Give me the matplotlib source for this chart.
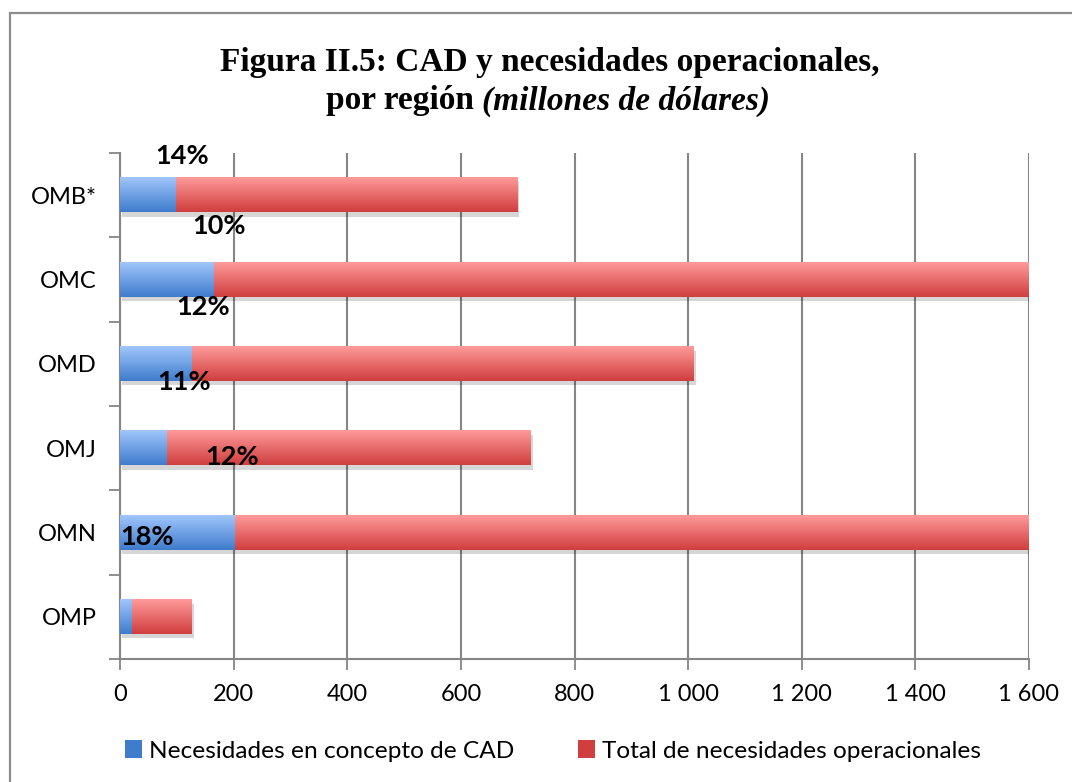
import numpy as np
import matplotlib
matplotlib.use('Agg')
import matplotlib.pyplot as plt
from matplotlib import patheffects as pe
from matplotlib.colors import LinearSegmentedColormap
from matplotlib.patches import Rectangle

# -------------------------------------------------------------------------------------------------------------------- #
# DATA

regions = ['OMB*', 'OMC', 'OMD', 'OMJ', 'OMN', 'OMP']
cad = [98, 164, 125, 81, 202, 21]
total = [699, 1640, 1010, 723, 1683, 126]
pct_labels = ['14%', '10%', '12%', '11%', '12%', '18%']
x_ticks = [0, 200, 400, 600, 800, 1000, 1200, 1400, 1600]
x_tick_labels = ['0', '200', '400', '600', '800', '1 000', '1 200', '1 400', '1 600']

# where the percentage labels sit (data coords: x value, category index)
pct_pos = [(109, -0.46), (174, 0.37), (146, 1.33), (113, 2.22), (197, 3.10), (48, 4.05)]

# -------------------------------------------------------------------------------------------------------------------- #
# STYLE

tick_font = 'Lato'
blue_top, blue_bot = '#a0c6fc', '#3f7ccc'
red_top, red_bot = '#ff9a9a', '#d03e3e'
axis_grey = '#868686'
x_max = 1600

fig = plt.figure(figsize=(10.72, 7.82), dpi=100)
ax = fig.add_axes([120 / 1072, 1 - 659 / 782, 909 / 1072, 506 / 782])

# outer frame (only top and left visible in the crop)
fig.patches.append(Rectangle((10 / 1072, -0.1), 1.2, 1 - 13 / 782 + 0.1, transform=fig.transFigure,
                             fill=False, edgecolor='#8c8c8c', linewidth=1.6))

y = np.arange(len(regions))
bar_h = 0.41

shadow = [pe.SimplePatchShadow(offset=(1.5, -3), shadow_rgbFace='#000000', alpha=0.16), pe.Normal()]
red_bars = ax.barh(y, total, height=bar_h, color=red_bot, zorder=2, path_effects=shadow)
blue_bars = ax.barh(y, cad, height=bar_h, color=blue_bot, zorder=3)


def fill_gradient(bars, c_top, c_bot, z):
    cmap = LinearSegmentedColormap.from_list('g', [c_top, c_bot])
    grad = np.linspace(0, 1, 64).reshape(-1, 1)
    for b in bars:
        x0, y0 = b.get_x(), b.get_y()
        x1 = min(x0 + b.get_width(), x_max)
        h = b.get_height()
        ax.imshow(grad, cmap=cmap, aspect='auto', origin='upper',
                  extent=(x0, x1, y0 + h, y0), zorder=z, interpolation='bilinear')


fill_gradient(red_bars, red_top, red_bot, 2.1)
fill_gradient(blue_bars, blue_top, blue_bot, 3.1)

for txt, (px, py) in zip(pct_labels, pct_pos):
    ax.text(px, py, txt, ha='center', va='center', fontsize=19.5, fontweight='bold',
            family=tick_font, color='black', zorder=5)

ax.set_xlim(0, x_max)
ax.set_ylim(len(regions) - 0.5, -0.5)

ax.set_xticks(x_ticks)
ax.set_xticklabels(x_tick_labels, family=tick_font, fontsize=17)
ax.set_yticks(y)
ax.set_yticklabels(regions, family=tick_font, fontsize=17)
ax.set_yticks(np.arange(-0.5, len(regions)), minor=True)
ax.tick_params(axis='y', which='major', length=0, pad=17)
ax.tick_params(axis='y', which='minor', length=8, width=1.3, color=axis_grey, direction='out')
ax.tick_params(axis='x', which='major', length=8, width=1.3, color=axis_grey, direction='out', pad=10)

ax.grid(axis='x', color=axis_grey, linewidth=1.5, zorder=0)
ax.set_axisbelow(True)
for s in ['top', 'right']:
    ax.spines[s].set_visible(False)
for s in ['left', 'bottom']:
    ax.spines[s].set_color(axis_grey)
    ax.spines[s].set_linewidth(1.5)

# legend
handles = [Rectangle((0, 0), 1, 1, facecolor=blue_bot),
           Rectangle((0, 0), 1, 1, facecolor=red_bot)]
leg = fig.legend(handles, ['Necesidades en concepto de CAD', 'Total de necesidades operacionales'],
                 loc='center', bbox_to_anchor=(553 / 1072, 1 - 751 / 782), ncol=2, frameon=False,
                 prop={'family': tick_font, 'size': 17.6}, handlelength=0.7, handleheight=0.7,
                 handletextpad=0.3, columnspacing=2.6)

# title: two lines, second with italic part
title_font = 'Liberation Serif'
fig.text(550 / 1072, 1 - 62 / 782, 'Figura II.5: CAD y necesidades operacionales,', ha='center', va='center',
         family=title_font, fontweight='bold', fontsize=24)
t1 = fig.text(0, 1 - 101 / 782, 'por región ', ha='left', va='center',
              family=title_font, fontweight='bold', fontsize=24)
t2 = fig.text(0, 1 - 101 / 782, '(millones de dólares)', ha='left', va='center',
              family=title_font, fontweight='bold', fontstyle='italic', fontsize=24)
r = fig.canvas.get_renderer()
w1 = t1.get_window_extent(r).width
w2 = t2.get_window_extent(r).width
start = 548 - (w1 + w2) / 2
t1.set_x(start / 1072)
t2.set_x((start + w1) / 1072)

fig.savefig('out.png', dpi=100)
